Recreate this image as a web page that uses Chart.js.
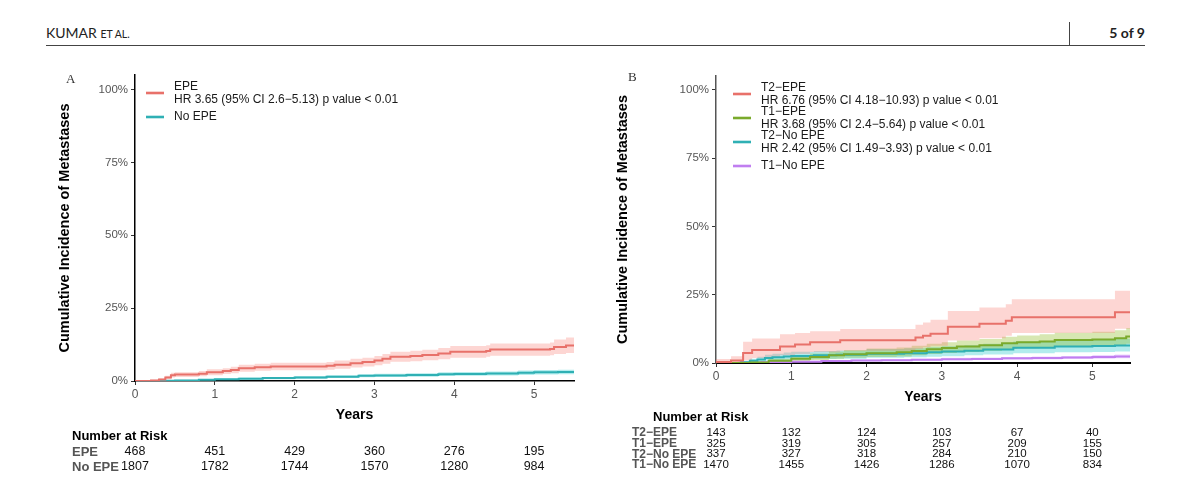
<!DOCTYPE html>
<html lang="en">
  <head>
    <meta charset="UTF-8" />
    <title>Cumulative Incidence of Metastases</title>
    <script src="https://cdn.jsdelivr.net/npm/chart.js"></script>
    <style>
      body {
        margin: 0;
        width: 1200px;
        height: 489px;
        background: #fff;
        position: relative;
        overflow: hidden;
        font-family: Lato, "Open Sans", sans-serif;
        color: #222;
      }
      .running-head {
        position: absolute;
        left: 46px;
        top: 24px;
        font-size: 14px;
        line-height: 17px;
      }
      .running-head small {
        font-size: 10.5px;
      }
      .page-no {
        position: absolute;
        right: 55px;
        top: 24px;
        font-size: 14px;
        line-height: 17px;
        font-weight: bold;
      }
      .rule {
        position: absolute;
        left: 46px;
        top: 45px;
        width: 1099px;
        border-top: 1.5px solid #444;
      }
      .bar {
        position: absolute;
        left: 1069px;
        top: 22px;
        height: 24px;
        border-left: 1px solid #444;
      }
      canvas {
        position: absolute;
        top: 60px;
      }
    </style>
  </head>

  <body>
    <div class="running-head">KUMAR <small>ET AL.</small></div>
    <div class="bar"></div>
    <div class="page-no">5 of 9</div>
    <div class="rule"></div>

    <canvas id="panelA" width="600" height="429" style="left: 0px"></canvas>
    <canvas id="panelB" width="600" height="429" style="left: 600px"></canvas>

    <script>
      // Axis ticks (years, percent)
      const yearTicks = [0, 1, 2, 3, 4, 5];
      const pctTicks = [0, 25, 50, 75, 100];

      // ---- Panel A: EPE vs No EPE (cumulative incidence, %) ----
      const epeTime = [0, 0.2, 0.3, 0.38, 0.45, 0.5, 0.8, 0.9, 1.1, 1.2, 1.3, 1.5, 1.7, 2.4, 2.5, 2.7, 2.85, 3.0, 3.1, 3.2, 3.45, 3.6, 3.8, 3.95, 4.4, 4.45, 5.2, 5.25, 5.4, 5.5];
      const epeEst = [0, 0.2, 0.5, 1.2, 2.0, 2.2, 2.5, 3.0, 3.4, 3.8, 4.4, 4.7, 5.0, 5.2, 5.6, 6.1, 6.5, 7.0, 7.6, 8.3, 8.6, 8.9, 9.4, 10.0, 10.3, 10.8, 11.0, 11.7, 12.2, 12.4];
      const epeHigh = [0, 0.4, 0.9, 1.8, 2.8, 3.0, 3.4, 4.0, 4.4, 4.9, 5.6, 5.9, 6.3, 6.5, 7.0, 7.6, 8.0, 8.6, 9.3, 10.0, 10.4, 10.7, 11.3, 12.0, 12.3, 12.9, 13.2, 14.2, 14.9, 15.3];
      const epeLow = [0, 0, 0.1, 0.6, 1.2, 1.4, 1.6, 2.0, 2.4, 2.7, 3.2, 3.5, 3.7, 3.9, 4.2, 4.6, 5.0, 5.4, 5.9, 6.6, 6.8, 7.1, 7.5, 8.0, 8.3, 8.7, 8.8, 9.3, 9.6, 9.7];

      const noEpeTime = [0, 0.3, 0.5, 0.8, 1.0, 1.3, 1.6, 2.0, 2.4, 2.8, 3.0, 3.4, 3.8, 4.0, 4.4, 4.8, 5.0, 5.3, 5.5];
      const noEpeEst = [0, 0.1, 0.2, 0.4, 0.6, 0.8, 1.0, 1.2, 1.5, 1.8, 1.9, 2.1, 2.3, 2.4, 2.6, 2.8, 3.0, 3.1, 3.2];
      const noEpeHigh = [0, 0.2, 0.4, 0.7, 0.9, 1.2, 1.4, 1.7, 2.0, 2.3, 2.5, 2.7, 3.0, 3.1, 3.3, 3.6, 3.8, 3.9, 4.0];
      const noEpeLow = [0, 0, 0.1, 0.2, 0.3, 0.5, 0.6, 0.8, 1.0, 1.3, 1.4, 1.5, 1.7, 1.8, 1.9, 2.1, 2.2, 2.3, 2.4];

      const namesA = ["EPE", "No EPE"];
      const hrA = ["HR 3.65 (95% CI 2.6\u22125.13) p value < 0.01", ""];
      const riskEpe = [468, 451, 429, 360, 276, 195];
      const riskNoEpe = [1807, 1782, 1744, 1570, 1280, 984];

      // ---- Panel B: T stage x EPE ----
      const t2EpeTime = [0, 0.2, 0.36, 0.48, 0.85, 1.05, 1.25, 1.65, 2.65, 2.75, 2.85, 3.08, 3.5, 3.85, 3.93, 5.3, 5.5];
      const t2EpeEst = [0.4, 0.9, 3.7, 4.8, 6.0, 6.8, 7.6, 8.3, 9.3, 10.0, 10.7, 13.3, 14.4, 15.5, 16.7, 18.6, 18.6];
      const t2EpeHigh = [1.5, 2.5, 7.8, 9.0, 10.5, 11.0, 11.6, 12.4, 14.0, 14.8, 15.8, 19.0, 20.3, 21.5, 23.3, 26.4, 26.4];
      const t2EpeLow = [0, 0, 1.0, 1.8, 2.8, 3.3, 3.9, 4.5, 5.2, 5.8, 6.3, 8.2, 9.1, 10.0, 11.0, 12.5, 12.5];

      const t1EpeTime = [0, 0.45, 0.7, 1.0, 1.25, 1.5, 1.7, 2.0, 2.4, 2.6, 2.8, 3.0, 3.2, 3.5, 3.8, 4.0, 4.3, 4.5, 5.0, 5.3, 5.45, 5.5];
      const t1EpeEst = [0, 0.2, 0.8, 1.6, 2.2, 2.8, 3.2, 3.6, 3.9, 4.4, 5.0, 5.5, 6.0, 6.5, 7.2, 7.6, 7.9, 8.4, 8.6, 9.1, 9.7, 9.8];
      const t1EpeHigh = [0, 0.6, 1.6, 2.7, 3.5, 4.2, 4.8, 5.3, 5.7, 6.3, 7.0, 7.6, 8.2, 8.8, 9.6, 10.1, 10.5, 11.1, 11.4, 12.0, 12.8, 13.0];
      const t1EpeLow = [0, 0, 0.2, 0.7, 1.1, 1.6, 1.9, 2.2, 2.4, 2.8, 3.3, 3.7, 4.1, 4.5, 5.1, 5.4, 5.6, 6.0, 6.2, 6.6, 7.0, 7.1];

      const t2NoEpeTime = [0, 0.33, 0.45, 0.55, 0.65, 0.75, 0.9, 1.0, 1.3, 1.6, 2.0, 2.5, 2.8, 3.0, 3.3, 3.55, 3.95, 4.5, 5.0, 5.3, 5.5];
      const t2NoEpeEst = [0, 0.3, 0.8, 1.3, 1.8, 2.1, 2.4, 2.6, 2.8, 3.0, 3.4, 3.6, 3.9, 4.2, 4.5, 4.9, 5.6, 6.0, 6.2, 6.4, 6.5];
      const t2NoEpeHigh = [0, 0.8, 1.6, 2.3, 3.0, 3.4, 3.8, 4.1, 4.4, 4.6, 5.1, 5.4, 5.8, 6.1, 6.5, 7.0, 7.9, 8.4, 8.7, 8.9, 9.0];
      const t2NoEpeLow = [0, 0, 0.2, 0.5, 0.8, 1.0, 1.2, 1.4, 1.5, 1.6, 1.9, 2.1, 2.3, 2.5, 2.8, 3.1, 3.6, 3.9, 4.0, 4.2, 4.3];

      const t1NoEpeTime = [0, 0.3, 0.6, 1.0, 1.4, 1.8, 2.2, 2.6, 3.0, 3.4, 3.8, 4.2, 4.6, 5.0, 5.3, 5.5];
      const t1NoEpeEst = [0, 0.1, 0.3, 0.5, 0.7, 0.9, 1.0, 1.2, 1.4, 1.5, 1.7, 1.8, 2.0, 2.2, 2.4, 2.5];
      const t1NoEpeHigh = [0, 0.2, 0.5, 0.8, 1.0, 1.3, 1.4, 1.6, 1.9, 2.0, 2.2, 2.4, 2.6, 2.9, 3.1, 3.2];
      const t1NoEpeLow = [0, 0, 0.1, 0.3, 0.4, 0.6, 0.7, 0.8, 1.0, 1.1, 1.2, 1.3, 1.5, 1.6, 1.7, 1.8];

      const namesB = ["T2\u2212EPE", "T1\u2212EPE", "T2\u2212No EPE", "T1\u2212No EPE"];
      const hrB = [
        "HR 6.76 (95% CI 4.18\u221210.93) p value < 0.01",
        "HR 3.68 (95% CI 2.4\u22125.64) p value < 0.01",
        "HR 2.42 (95% CI 1.49\u22123.93) p value < 0.01",
        "",
      ];
      const riskT2Epe = [143, 132, 124, 103, 67, 40];
      const riskT1Epe = [325, 319, 305, 257, 209, 155];
      const riskT2NoEpe = [337, 327, 318, 284, 210, 150];
      const riskT1NoEpe = [1470, 1455, 1426, 1286, 1070, 834];

      const SANS = '"Liberation Sans", Arial, sans-serif';

      function pts(t, v) {
        return t.map((x, i) => ({ x: x, y: v[i] }));
      }

      // lower bound, upper bound (filled to lower), then the step line
      function kmDatasets(g) {
        return [
          { data: pts(g.time, g.low), borderWidth: 0, pointRadius: 0, stepped: true, fill: false, order: 1 },
          { data: pts(g.time, g.high), borderWidth: 0, pointRadius: 0, stepped: true, fill: "-1", backgroundColor: g.band, order: 1 },
          { data: pts(g.time, g.est), borderColor: g.color, borderWidth: 2, pointRadius: 0, stepped: true, fill: false, order: 0 },
        ];
      }

      const panelDecor = {
        id: "panelDecor",
        afterDraw(chart, args, o) {
          const { ctx, chartArea: ca } = chart;
          const x = chart.scales.x;
          ctx.save();
          ctx.textBaseline = "middle";

          // panel letter
          ctx.fillStyle = "#333";
          ctx.textAlign = "left";
          ctx.font = '13px "Liberation Serif", serif';
          ctx.fillText(o.letter, o.letterX, o.letterY);

          // y title
          ctx.save();
          ctx.translate(o.yTitleX, (ca.top + ca.bottom) / 2);
          ctx.rotate(-Math.PI / 2);
          ctx.textAlign = "center";
          ctx.fillStyle = "#000";
          ctx.font = "bold 14.5px " + SANS;
          ctx.fillText("Cumulative Incidence of Metastases", 0, 0);
          ctx.restore();

          // x title
          ctx.textAlign = "center";
          ctx.fillStyle = "#000";
          ctx.font = "bold 14px " + SANS;
          ctx.fillText("Years", (ca.left + ca.right) / 2, o.xTitleY);

          // legend
          ctx.font = "12px " + SANS;
          o.groups.forEach((g, i) => {
            const ky = o.legendY + i * 24;
            ctx.strokeStyle = g.color;
            ctx.lineWidth = 2.6;
            ctx.beginPath();
            ctx.moveTo(o.legendX, ky);
            ctx.lineTo(o.legendX + 18, ky);
            ctx.stroke();
            ctx.fillStyle = "#1a1a1a";
            ctx.textAlign = "left";
            if (g.hr) {
              ctx.fillText(g.name, o.legendX + 28, ky - 6.4);
              ctx.fillText(g.hr, o.legendX + 28, ky + 6.4);
            } else {
              ctx.fillText(g.name, o.legendX + 28, ky);
            }
          });

          // number at risk table
          ctx.textAlign = "left";
          ctx.fillStyle = "#000";
          ctx.font = "bold 13px " + SANS;
          ctx.fillText("Number at Risk", o.tableTitleX, o.tableTitleY);
          o.groups.forEach((g, i) => {
            const y = o.rowY + i * o.rowStep;
            ctx.textAlign = "left";
            ctx.fillStyle = "#555";
            ctx.font = "bold " + o.labelSize + "px " + SANS;
            ctx.fillText(g.name, o.tableX, y);
            ctx.textAlign = "center";
            ctx.fillStyle = "#111";
            ctx.font = o.valueSize + "px " + SANS;
            g.risk.forEach((n, j) => {
              ctx.fillText(String(n), x.getPixelForValue(yearTicks[j]), y);
            });
          });
          ctx.restore();
        },
      };

      function makePanel(id, groups, lay) {
        const datasets = [];
        groups.forEach((g) => datasets.push(...kmDatasets(g)));
        return new Chart(document.getElementById(id), {
          type: "line",
          data: { datasets: datasets },
          options: {
            responsive: false,
            animation: false,
            layout: { padding: { left: 0, top: lay.top, right: lay.right, bottom: 0 } },
            plugins: {
              legend: { display: false },
              tooltip: { enabled: false },
              panelDecor: Object.assign({ groups: groups }, lay),
            },
            scales: {
              x: {
                type: "linear",
                min: 0,
                max: 5.5,
                z: 1,
                afterFit: (s) => {
                  s.height = lay.xHeight;
                },
                afterBuildTicks: (s) => {
                  s.ticks = yearTicks.map((v) => ({ value: v }));
                },
                grid: { display: true, drawOnChartArea: false, drawTicks: true, tickLength: 4, color: "#333" },
                border: { display: true, color: "#000", width: lay.xBorder },
                ticks: { autoSkip: false, maxRotation: 0, padding: 2, color: "#555", font: { family: SANS, size: 12 } },
              },
              y: {
                type: "linear",
                min: 0,
                max: 105,
                afterFit: (s) => {
                  s.width = lay.yWidth;
                },
                afterBuildTicks: (s) => {
                  s.ticks = pctTicks.map((v) => ({ value: v }));
                },
                grid: { display: true, drawOnChartArea: false, drawTicks: true, tickLength: 4, color: "#333" },
                border: { display: true, color: lay.yBorderColor, width: 1.5 },
                ticks: {
                  autoSkip: false,
                  padding: 3,
                  color: "#555",
                  font: { family: SANS, size: 11.5 },
                  callback: (v) => v + "%",
                },
              },
            },
          },
          plugins: [panelDecor],
        });
      }

      makePanel(
        "panelA",
        [
          { name: namesA[0], hr: hrA[0], risk: riskEpe, time: epeTime, est: epeEst, low: epeLow, high: epeHigh, color: "#E8716A", band: "rgba(248,118,109,0.3)" },
          { name: namesA[1], hr: hrA[1], risk: riskNoEpe, time: noEpeTime, est: noEpeEst, low: noEpeLow, high: noEpeHigh, color: "#2FB0B4", band: "rgba(0,191,196,0.3)" },
        ],
        {
          top: 15, right: 26, yWidth: 135, xHeight: 108, xBorder: 1.5, yBorderColor: "#000",
          letter: "A", letterX: 66, letterY: 20, yTitleX: 65, xTitleY: 355,
          legendX: 146, legendY: 33,
          tableTitleX: 72, tableTitleY: 376, tableX: 72, rowY: 392, rowStep: 15, labelSize: 13, valueSize: 12.5,
        }
      );

      makePanel(
        "panelB",
        [
          { name: namesB[0], hr: hrB[0], risk: riskT2Epe, time: t2EpeTime, est: t2EpeEst, low: t2EpeLow, high: t2EpeHigh, color: "#E8716A", band: "rgba(248,118,109,0.3)" },
          { name: namesB[1], hr: hrB[1], risk: riskT1Epe, time: t1EpeTime, est: t1EpeEst, low: t1EpeLow, high: t1EpeHigh, color: "#7AAA2C", band: "rgba(124,174,0,0.3)" },
          { name: namesB[2], hr: hrB[2], risk: riskT2NoEpe, time: t2NoEpeTime, est: t2NoEpeEst, low: t2NoEpeLow, high: t2NoEpeHigh, color: "#2FB0B4", band: "rgba(0,191,196,0.3)" },
          { name: namesB[3], hr: hrB[3], risk: riskT1NoEpe, time: t1NoEpeTime, est: t1NoEpeEst, low: t1NoEpeLow, high: t1NoEpeHigh, color: "#C07EF0", band: "rgba(199,124,255,0.3)" },
        ],
        {
          top: 16, right: 70, yWidth: 116, xHeight: 126, xBorder: 2, yBorderColor: "#555",
          letter: "B", letterX: 28, letterY: 18, yTitleX: 23, xTitleY: 337,
          legendX: 133, legendY: 34,
          tableTitleX: 53, tableTitleY: 357, tableX: 32, rowY: 373, rowStep: 10.6, labelSize: 12, valueSize: 11.5,
        }
      );
    </script>
  </body>
</html>
